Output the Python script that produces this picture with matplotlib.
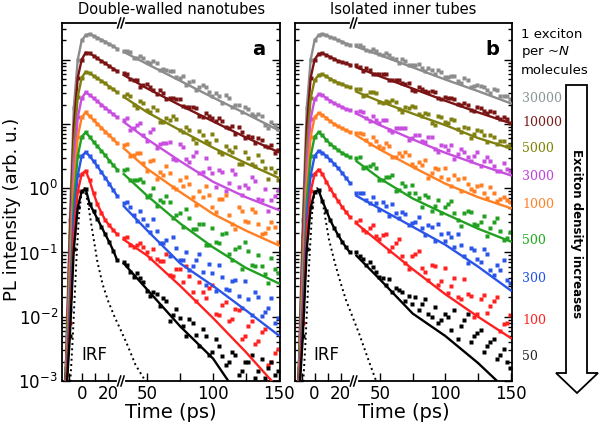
import numpy as np
import matplotlib
matplotlib.use('Agg')
import matplotlib.pyplot as plt
from matplotlib.ticker import FixedLocator, LogLocator, NullFormatter, FuncFormatter
from matplotlib.patches import Polygon

# excitation density labels (1 exciton per ~N molecules), top curve first
labels = ['30000', '10000', '5000', '3000', '1000', '500', '300', '100', '50']
colors = ['#8c8c8c', '#7a1414', '#808010', '#c84ee0', '#ff7f22', '#22a022', '#2a55e8', '#ff2020', '#000000']
label_colors = ['#8a9696', '#7a1a1a', '#7f8000', '#c040e0', '#ff7f27', '#1aaa1a', '#2050e8', '#ff2020', '#222222']

# time axes (ps)
t_early = [-14, -12, -9, -6, -3, 0, 3, 6, 9, 12, 15, 18, 21, 24, 27]
t_fit = [32, 50, 75, 100, 125, 150]
t_data = np.arange(32, 150, 5)
t_data2 = np.arange(34.5, 150, 5)

# ---- panel a : double-walled nanotubes (log10 of PL intensity) ----
a_early = [
    [-3.5, -2.7, -0.5, 1.25, 2.0, 2.3, 2.38, 2.40, 2.37, 2.34, 2.31, 2.28, 2.24, 2.21, 2.17],
    [-3.5, -2.8, -0.75, 0.95, 1.72, 2.0, 2.11, 2.10, 2.06, 2.02, 1.98, 1.94, 1.90, 1.86, 1.82],
    [-3.5, -2.9, -1.0, 0.65, 1.42, 1.72, 1.81, 1.79, 1.75, 1.71, 1.67, 1.63, 1.58, 1.54, 1.49],
    [-3.5, -3.0, -1.25, 0.35, 1.1, 1.4, 1.49, 1.45, 1.40, 1.35, 1.30, 1.25, 1.20, 1.15, 1.10],
    [-3.5, -3.05, -1.5, 0.05, 0.8, 1.1, 1.18, 1.12, 1.06, 1.00, 0.94, 0.88, 0.82, 0.76, 0.70],
    [-3.5, -3.1, -1.7, -0.2, 0.5, 0.8, 0.87, 0.80, 0.72, 0.65, 0.58, 0.51, 0.43, 0.36, 0.29],
    [-3.5, -3.15, -1.9, -0.45, 0.2, 0.5, 0.56, 0.50, 0.42, 0.34, 0.25, 0.16, 0.07, -0.03, -0.12],
    [-3.5, -3.2, -2.1, -0.7, -0.05, 0.22, 0.27, 0.12, -0.08, -0.25, -0.38, -0.50, -0.58, -0.65, -0.72],
    [-3.5, -3.3, -2.3, -0.95, -0.3, -0.05, -0.01, -0.24, -0.36, -0.48, -0.60, -0.72, -0.84, -0.97, -1.12],
]
a_fit = [
    [2.12, 1.93, 1.67, 1.41, 1.16, 0.90],
    [1.76, 1.55, 1.29, 1.04, 0.79, 0.56],
    [1.42, 1.18, 0.90, 0.63, 0.39, 0.16],
    [1.03, 0.76, 0.42, 0.10, -0.14, -0.34],
    [0.62, 0.30, -0.06, -0.40, -0.66, -0.89],
    [0.22, -0.12, -0.55, -0.92, -1.24, -1.48],
    [-0.28, -0.66, -1.17, -1.52, -1.90, -2.29],
    [-0.80, -1.05, -1.52, -2.02, -2.55, -3.12],
    [-1.17, -1.58, -2.15, -2.65, -3.4, -4.0],
]
a_data = [
    [2.14, 2.12, 2.02, 2.02, 1.94, 1.94, 1.85, 1.83, 1.73, 1.74, 1.65, 1.52, 1.60, 1.49, 1.48, 1.32, 1.41, 1.29, 1.19, 1.23, 1.12, 1.13, 0.94, 0.99],
    [1.79, 1.70, 1.69, 1.60, 1.57, 1.46, 1.48, 1.40, 1.38, 1.28, 1.26, 1.24, 1.11, 1.12, 1.05, 1.05, 0.94, 0.84, 0.88, 0.81, 0.70, 0.75, 0.64, 0.54],
    [1.44, 1.43, 1.25, 1.32, 1.19, 1.22, 1.03, 1.06, 1.08, 0.88, 0.91, 0.71, 0.83, 0.70, 0.75, 0.53, 0.59, 0.64, 0.37, 0.47, 0.35, 0.43, 0.15, 0.25],
    [1.06, 0.90, 0.98, 0.82, 0.88, 0.63, 0.71, 0.72, 0.44, 0.64, 0.41, 0.56, 0.25, 0.32, 0.02, 0.25, 0.08, 0.22, -0.11, 0.00, 0.11, -0.19, -0.36, -0.12],
    [0.67, 0.50, 0.54, 0.39, 0.42, 0.15, 0.21, 0.24, -0.02, 0.03, 0.06, -0.26, -0.13, -0.11, -0.37, -0.17, -0.42, -0.63, -0.35, -0.53, -0.37, -0.72, -0.62, -0.61],
    [0.28, 0.13, 0.13, 0.09, -0.10, -0.28, -0.21, -0.21, -0.42, -0.60, -0.47, -0.63, -0.55, -0.88, -0.83, -0.71, -1.03, -0.94, -1.25, -0.98, -1.21, -1.21, -1.48, -1.25],
    [-0.23, -0.29, -0.51, -0.48, -0.68, -0.66, -0.86, -1.06, -0.93, -1.12, -1.27, -1.12, -1.31, -1.18, -1.60, -1.38, -1.59, -1.43, -1.86, -1.73, -1.61, -1.99, -1.87, -2.09],
    [-0.77, -0.89, -0.88, -0.91, -1.09, -1.10, -1.13, -1.35, -1.26, -1.46, -1.36, -1.76, -1.61, -1.56, -1.96, -1.82, -2.07, -1.88, -2.34, -2.15, -2.42, -2.23, -2.75, -2.56],
    [-1.15, -1.31, -1.32, -1.46, -1.68, -1.64, -1.71, -2.07, -1.88, -2.14, -2.04, -2.29, -2.19, -2.59, -2.35, -2.61, -2.70, -2.60, -2.85, -2.70, -2.95, -2.65, -2.80, -2.90],
]
a_data2 = [
    [2.14, 2.02, 2.06, 1.97, 1.98, 1.84, 1.84, 1.83, 1.71, 1.61, 1.66, 1.58, 1.58, 1.44, 1.44, 1.45, 1.26, 1.30, 1.26, 1.15, 1.15, 0.98, 1.03, 0.92],
    [1.78, 1.68, 1.58, 1.62, 1.53, 1.53, 1.38, 1.40, 1.38, 1.26, 1.26, 1.12, 1.17, 1.09, 1.09, 0.95, 0.96, 0.95, 0.78, 0.80, 0.78, 0.66, 0.67, 0.60],
    [1.47, 1.29, 1.36, 1.21, 1.26, 1.03, 1.09, 1.12, 0.91, 0.95, 0.76, 0.89, 0.74, 0.84, 0.57, 0.66, 0.56, 0.38, 0.56, 0.38, 0.51, 0.31, 0.31, 0.13],
    [1.09, 0.94, 1.02, 0.73, 0.92, 0.69, 0.70, 0.46, 0.69, 0.46, 0.50, 0.23, 0.47, 0.23, 0.28, -0.05, 0.28, 0.02, 0.05, 0.18, -0.17, -0.01, -0.18, -0.03],
    [0.68, 0.52, 0.55, 0.27, 0.44, 0.25, 0.35, 0.02, 0.13, 0.18, -0.14, -0.04, 0.03, -0.29, -0.17, -0.10, -0.55, -0.30, -0.51, -0.32, -0.55, -0.70, -0.52, -0.83],
    [0.30, 0.12, 0.15, -0.14, 0.01, -0.19, -0.12, -0.46, -0.39, -0.32, -0.64, -0.55, -0.89, -0.62, -0.86, -0.70, -1.11, -0.92, -0.83, -1.19, -1.04, -1.33, -1.08, -1.32],
    [-0.22, -0.42, -0.35, -0.57, -0.48, -0.86, -0.81, -0.76, -1.11, -0.99, -1.21, -1.03, -1.50, -1.32, -1.19, -1.57, -1.45, -1.67, -1.45, -1.97, -1.70, -1.93, -1.71, -2.02],
    [-0.76, -0.91, -0.86, -1.00, -0.94, -1.13, -1.03, -1.37, -1.26, -1.21, -1.61, -1.46, -1.71, -1.51, -1.97, -1.77, -2.03, -1.89, -2.30, -2.06, -2.38, -2.19, -2.70, -2.50],
    [-1.20, -1.38, -1.40, -1.60, -1.62, -1.83, -1.75, -1.98, -2.02, -2.30, -2.10, -2.45, -2.30, -2.55, -2.45, -2.75, -2.55, -2.90, -2.70, -2.60, -2.85, -2.95, -2.70, -2.85],
]
t_irf_a = [-10, -7, -4, -2, 0, 2, 4.5, 8, 12, 16, 20, 25, 30, 35, 41, 47, 52]
irf_a = [-3.5, -2.4, -1.1, -0.4, -0.05, 0.0, -0.2, -0.65, -1.15, -1.5, -1.75, -2.0, -2.22, -2.45, -2.75, -2.95, -3.1]

# ---- panel b : isolated inner tubes ----
b_early = [
    [-3.5, -2.7, -0.5, 1.25, 2.0, 2.3, 2.38, 2.40, 2.38, 2.35, 2.33, 2.30, 2.28, 2.25, 2.23],
    [-3.5, -2.8, -0.75, 0.95, 1.72, 2.0, 2.09, 2.10, 2.07, 2.04, 2.01, 1.98, 1.96, 1.94, 1.92],
    [-3.5, -2.9, -1.0, 0.62, 1.4, 1.68, 1.76, 1.77, 1.74, 1.70, 1.67, 1.64, 1.62, 1.59, 1.57],
    [-3.5, -3.0, -1.25, 0.32, 1.08, 1.38, 1.46, 1.45, 1.40, 1.36, 1.32, 1.29, 1.26, 1.23, 1.21],
    [-3.5, -3.05, -1.5, 0.05, 0.8, 1.1, 1.17, 1.14, 1.09, 1.04, 1.00, 0.96, 0.93, 0.90, 0.87],
    [-3.5, -3.1, -1.7, -0.2, 0.5, 0.8, 0.87, 0.82, 0.75, 0.69, 0.64, 0.59, 0.55, 0.51, 0.48],
    [-3.5, -3.15, -1.9, -0.45, 0.2, 0.5, 0.58, 0.55, 0.50, 0.44, 0.38, 0.31, 0.24, 0.16, 0.08],
    [-3.5, -3.2, -2.1, -0.7, -0.05, 0.22, 0.29, 0.22, 0.10, -0.01, -0.11, -0.20, -0.29, -0.37, -0.45],
    [-3.5, -3.3, -2.3, -0.95, -0.3, -0.06, -0.03, -0.20, -0.35, -0.50, -0.62, -0.73, -0.83, -0.92, -1.00],
]
b_fit = [
    [2.20, 2.07, 1.88, 1.69, 1.51, 1.32],
    [1.88, 1.74, 1.55, 1.36, 1.18, 1.01],
    [1.50, 1.35, 1.16, 0.98, 0.78, 0.62],
    [1.16, 0.98, 0.76, 0.55, 0.37, 0.20],
    [0.82, 0.60, 0.33, 0.07, -0.14, -0.31],
    [0.42, 0.15, -0.16, -0.40, -0.63, -0.83],
    [-0.12, -0.32, -0.60, -0.88, -1.22, -1.59],
    [-0.55, -0.85, -1.26, -1.65, -2.00, -2.33],
    [-1.05, -1.42, -1.95, -2.30, -2.72, -3.20],
]
b_data = [
    [2.22, 2.20, 2.13, 2.14, 2.07, 2.07, 2.01, 2.01, 1.91, 1.92, 1.87, 1.87, 1.77, 1.81, 1.73, 1.74, 1.63, 1.69, 1.59, 1.59, 1.53, 1.55, 1.43, 1.44],
    [1.91, 1.83, 1.84, 1.78, 1.78, 1.69, 1.69, 1.63, 1.63, 1.51, 1.54, 1.49, 1.49, 1.38, 1.40, 1.39, 1.29, 1.30, 1.20, 1.24, 1.17, 1.18, 1.08, 1.08],
    [1.54, 1.44, 1.49, 1.48, 1.33, 1.34, 1.34, 1.18, 1.24, 1.26, 1.12, 1.15, 0.99, 1.10, 1.01, 1.06, 0.88, 0.93, 0.84, 0.89, 0.72, 0.80, 0.73, 0.66],
    [1.19, 1.18, 1.04, 1.06, 1.06, 0.91, 0.93, 0.94, 0.75, 0.82, 0.73, 0.80, 0.61, 0.67, 0.60, 0.46, 0.61, 0.48, 0.50, 0.34, 0.49, 0.35, 0.26, 0.30],
    [0.86, 0.84, 0.68, 0.74, 0.63, 0.65, 0.48, 0.50, 0.51, 0.33, 0.36, 0.16, 0.32, 0.18, 0.15, 0.21, -0.04, 0.06, -0.05, 0.05, -0.16, -0.07, -0.17, -0.19],
    [0.47, 0.32, 0.35, 0.32, 0.13, 0.17, -0.05, 0.08, -0.08, -0.08, -0.29, -0.13, -0.27, -0.38, -0.24, -0.39, -0.59, -0.36, -0.56, -0.53, -0.75, -0.52, -0.67, -0.77],
    [-0.07, -0.07, -0.23, -0.23, -0.22, -0.43, -0.38, -0.37, -0.57, -0.52, -0.62, -0.57, -0.82, -0.71, -0.70, -0.91, -0.89, -1.16, -0.96, -1.15, -1.02, -1.35, -1.27, -1.43],
    [-0.52, -0.65, -0.62, -0.75, -0.73, -0.97, -0.85, -1.05, -1.26, -1.03, -1.24, -1.43, -1.21, -1.44, -1.63, -1.40, -1.72, -1.64, -2.01, -1.73, -1.94, -1.76, -2.22, -2.09],
    [-1.00, -1.10, -1.15, -1.30, -1.40, -1.42, -1.55, -1.62, -1.68, -1.70, -1.80, -1.95, -1.85, -2.05, -2.00, -1.90, -2.15, -1.95, -2.30, -2.20, -2.45, -2.35, -2.60, -2.70],
]
b_data2 = [
    [2.22, 2.15, 2.17, 2.09, 2.10, 2.03, 1.95, 1.98, 1.92, 1.93, 1.82, 1.84, 1.84, 1.73, 1.74, 1.67, 1.71, 1.57, 1.60, 1.58, 1.48, 1.52, 1.44, 1.38],
    [1.88, 1.87, 1.78, 1.78, 1.78, 1.68, 1.68, 1.62, 1.53, 1.57, 1.51, 1.51, 1.41, 1.42, 1.41, 1.31, 1.32, 1.22, 1.26, 1.20, 1.20, 1.11, 1.11, 1.02],
    [1.54, 1.45, 1.49, 1.34, 1.36, 1.37, 1.23, 1.27, 1.28, 1.15, 1.17, 1.02, 1.13, 1.03, 1.08, 0.92, 0.95, 0.78, 0.91, 0.82, 0.82, 0.69, 0.74, 0.67],
    [1.20, 1.09, 1.13, 1.02, 1.06, 0.87, 0.93, 0.94, 0.78, 0.82, 0.72, 0.79, 0.56, 0.66, 0.67, 0.53, 0.57, 0.42, 0.56, 0.43, 0.43, 0.26, 0.39, 0.27],
    [0.86, 0.75, 0.79, 0.66, 0.71, 0.48, 0.55, 0.56, 0.38, 0.41, 0.44, 0.24, 0.30, 0.31, 0.04, 0.15, 0.16, -0.02, 0.04, -0.07, 0.02, -0.20, -0.13, -0.22],
    [0.49, 0.33, 0.38, 0.13, 0.18, 0.20, -0.03, 0.03, 0.05, -0.16, -0.11, -0.36, -0.18, -0.30, -0.20, -0.49, -0.39, -0.37, -0.58, -0.43, -0.62, -0.46, -0.81, -0.68],
    [-0.07, -0.18, -0.14, -0.34, -0.27, -0.25, -0.46, -0.40, -0.54, -0.45, -0.73, -0.61, -0.56, -0.82, -0.76, -0.71, -1.06, -0.93, -1.10, -0.94, -1.28, -1.19, -1.11, -1.48],
    [-0.49, -0.68, -0.58, -0.79, -0.71, -0.91, -0.79, -1.17, -1.05, -0.97, -1.30, -1.19, -1.50, -1.24, -1.52, -1.69, -1.41, -1.68, -1.95, -1.66, -1.83, -1.69, -2.11, -1.97],
    [-1.05, -1.20, -1.22, -1.38, -1.50, -1.62, -1.58, -1.75, -1.80, -1.90, -1.72, -2.00, -2.10, -1.95, -2.20, -2.35, -2.05, -2.40, -2.25, -2.55, -2.40, -2.65, -2.50, -2.80],
]
t_irf_b = [-10, -7, -4, -2, 0, 2, 4, 6, 11, 16, 20, 24, 29, 34, 42, 48, 52]
irf_b = [-3.5, -2.4, -1.1, -0.4, -0.05, 0.0, -0.08, -0.2, -0.8, -1.2, -1.48, -1.74, -2.0, -2.26, -2.72, -3.05, -3.2]

x_ticks = [-10, 0, 10, 20, 50, 75, 100, 125, 150]
x_ticklabels = ['', '0', '', '20', '50', '', '100', '', '150']

# figure layout in pixels
W, H = 600, 430
def fx(x):
    return x / W
def fy(y):
    return 1 - y / H

fig = plt.figure(figsize=(6, 4.3), dpi=100)
ax_a = fig.add_axes([fx(62), fy(381), fx(280) - fx(62), fy(23) - fy(381)])
ax_b = fig.add_axes([fx(295), fy(381), fx(512) - fx(295), fy(23) - fy(381)])


def draw_panel(ax, early, fit, data, data2, t_irf, irf):
    for i in range(len(labels)):
        ax.plot(t_early, 10 ** np.array(early[i]), 's', ms=2.6, color=colors[i], mec='none', zorder=2)
        ax.plot(t_data, 10 ** np.array(data[i]), 's', ms=2.8, color=colors[i], mec='none', zorder=2)
        ax.plot(t_data2, 10 ** np.array(data2[i]), 's', ms=2.8, color=colors[i], mec='none', zorder=2)
    for i in range(len(labels)):
        ax.plot(t_early, 10 ** np.array(early[i]), '-', lw=1.7, color=colors[i], zorder=3)
        ax.plot(t_fit, 10 ** np.array(fit[i]), '-', lw=1.7, color=colors[i], zorder=3)
    ax.plot(t_irf, 10 ** np.array(irf), color='k', lw=1.4, ls=(0, (1, 1.7)), zorder=3)

    ax.set_yscale('log')
    ax.set_ylim(1e-3, 10 ** 2.57)
    ax.set_xlim(-15, 151)
    ax.yaxis.set_major_locator(FixedLocator([1e-3, 1e-2, 1e-1, 1, 10, 100]))
    ax.yaxis.set_minor_locator(LogLocator(base=10, subs=np.arange(2, 10) * 1.0, numticks=20))
    ax.yaxis.set_minor_formatter(NullFormatter())
    ax.xaxis.set_major_locator(FixedLocator(x_ticks))
    ax.set_xticklabels(x_ticklabels)
    ax.tick_params(which='both', direction='in', left=True, right=True, top=False, width=1.0)
    ax.tick_params(which='major', length=6, labelsize=12, pad=3)
    ax.tick_params(which='minor', length=3)
    for s in ax.spines.values():
        s.set_linewidth(1.3)
    ax.set_xlabel('Time (ps)', fontsize=14, labelpad=0)

    # axis break marks at ~30 ps
    tr = ax.get_xaxis_transform()
    for yy in (0, 1):
        ax.plot([28.4, 31.4], [yy, yy], color='white', lw=3, transform=tr, clip_on=False, zorder=5)
        for x0 in (27.3, 29.9):
            ax.plot([x0, x0 + 2.4], [yy - 0.014, yy + 0.014], color='k', lw=1.1,
                    transform=tr, clip_on=False, zorder=6)


draw_panel(ax_a, a_early, a_fit, a_data, a_data2, t_irf_a, irf_a)
draw_panel(ax_b, b_early, b_fit, b_data, b_data2, t_irf_b, irf_b)

ax_a.yaxis.set_major_formatter(FuncFormatter(
    lambda v, pos: '$10^{%d}$' % round(np.log10(v)) if v <= 1.01 else ''))
ax_b.yaxis.set_major_formatter(FuncFormatter(lambda v, pos: ''))
ax_a.set_ylabel('PL intensity (arb. u.)', fontsize=13)
ax_a.yaxis.set_label_coords(-0.19, 0.48)

ax_a.text(0.9, 0.925, 'a', transform=ax_a.transAxes, fontsize=14, fontweight='bold', ha='center', va='center')
ax_b.text(0.91, 0.925, 'b', transform=ax_b.transAxes, fontsize=14, fontweight='bold', ha='center', va='center')
ax_a.text(10, 10 ** -2.6, 'IRF', fontsize=12, ha='center', va='center')
ax_b.text(9, 10 ** -2.6, 'IRF', fontsize=12, ha='center', va='center')

fig.text(fx(172), fy(9), 'Double-walled nanotubes', fontsize=10.5, ha='center', va='center')
fig.text(fx(403), fy(9), 'Isolated inner tubes', fontsize=10.5, ha='center', va='center')

# legend column on the right
fig.text(fx(521), fy(35), '1 exciton', fontsize=9.5, ha='left', va='center')
fig.text(fx(521), fy(52), 'per ~$N$', fontsize=9.5, ha='left', va='center')
fig.text(fx(521), fy(70), 'molecules', fontsize=9.5, ha='left', va='center')
label_y = [99, 123, 148, 176, 204, 240, 278, 321, 356]
for lab, c, yy in zip(labels, label_colors, label_y):
    fig.text(fx(522), fy(yy), lab, fontsize=9, family='DejaVu Serif', color=c, ha='left', va='center')

# big hollow arrow
arrow_pts = [(566, 85), (587, 85), (587, 373), (598, 373), (577, 393), (556, 373), (566, 373)]
arrow = Polygon([(fx(x), fy(y)) for x, y in arrow_pts], closed=True, transform=fig.transFigure,
                facecolor='white', edgecolor='black', lw=1.3)
fig.add_artist(arrow)
fig.text(fx(577), fy(234), 'Exciton density increases', rotation=270, fontsize=8.5,
         fontweight='bold', ha='center', va='center')

fig.savefig('out.png', dpi=100)
